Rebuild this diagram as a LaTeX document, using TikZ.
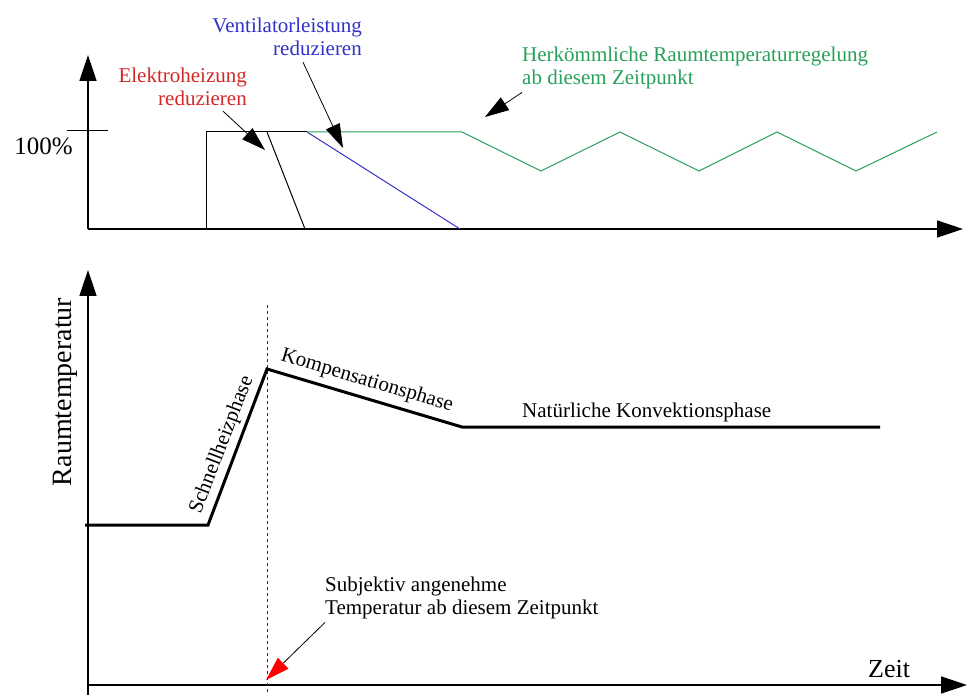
\documentclass[tikz,border=0pt]{standalone}
\usepackage{fontspec}
\setmainfont{Liberation Serif}
\usetikzlibrary{arrows.meta}
\definecolor{hgreen}{RGB}{40,160,90}
\definecolor{vblue}{RGB}{50,50,200}
\definecolor{ered}{RGB}{210,40,40}

\begin{document}
\begin{tikzpicture}[x=1pt,y=-1pt,
  axis/.style={line width=1.5pt,-{Triangle[length=26pt,width=17pt]}},
  pointer/.style={line width=0.8pt,-{Triangle[length=24pt,width=15pt]}},
  lbl/.style={inner sep=0pt,font=\fontsize{21}{23}\selectfont},
  curve/.style={line width=1pt}]
\useasboundingbox (0,0) rectangle (967,695);

% upper diagram: heating and fan power
\coordinate (o1) at (88,229);
\coordinate (y1) at (88,55);
\coordinate (x1) at (963,229);
\draw[axis] (o1) -- (y1);
\draw[axis] (o1) -- (x1);
\draw[line width=1pt] (67,131) -- (108,131);
\node[lbl,font=\fontsize{25}{25}\selectfont,anchor=base east] (full) at (73,155) {100\%};

\draw[curve] (206,229) -- (206,132) -- (307,132);
\draw[curve] (267,132) -- (305,229);
\draw[curve,vblue] (307,132) -- (460,229);
\draw[curve,hgreen] (307,132) -- (462,132) -- (541,171) -- (620,132) -- (699,171)
  -- (777,132) -- (856,171) -- (937,132);

\node[lbl,ered,align=right,anchor=north east] (elektro) at (247,68) {Elektroheizung\\reduzieren};
\node[lbl,vblue,align=right,anchor=north east] (vent) at (362,18) {Ventilatorleistung\\reduzieren};
\node[lbl,hgreen,align=left,anchor=north west] (herk) at (522,47)
  {Herkömmliche Raumtemperaturregelung\\ab diesem Zeitpunkt};

\coordinate (eh-tip) at (265,150);
\coordinate (vl-tip) at (343,148);
\coordinate (hk-tip) at (485,117);
\draw[pointer] ([xshift=-24pt,yshift=-5pt]elektro.south east) -- (eh-tip);
\draw[pointer] ([xshift=-59pt,yshift=-6pt]vent.south east) -- (vl-tip);
\draw[pointer] ([yshift=-3pt]herk.south west) -- (hk-tip);

% lower diagram: room temperature
\coordinate (o2) at (88,685);
\coordinate (y2b) at (88,695);
\coordinate (y2) at (88,270);
\coordinate (x2) at (967,685);
\draw[axis] (y2b) -- (y2);
\draw[axis] (o2) -- (x2);
\node[lbl,font=\fontsize{28}{28}\selectfont,rotate=90] (raum) at (65,392) {Raumtemperatur};
\node[lbl,font=\fontsize{26}{26}\selectfont,anchor=base west] (zeit) at (868,677) {Zeit};

\draw[red!60!black,dashed,line width=0.7pt] (267,305) -- (267,695);
\draw[line width=3pt] (85,525) -- (208,525) -- (267,369) -- (462,427) -- (880,427);

\node[lbl,rotate=69] (schnell) at (222,445) {Schnellheizphase};
\node[lbl,rotate=-16.6] (kompens) at (367,381) {Kompensationsphase};
\node[lbl,anchor=base west] (natur) at (522,417) {Natürliche Konvektionsphase};

\node[lbl,align=left,anchor=north west] (subj) at (325,577)
  {Subjektiv angenehme\\Temperatur ab diesem Zeitpunkt};
\coordinate (sj-tip) at (266,680);
\draw[line width=0.8pt,-{Triangle[length=24pt,width=15pt,red]}] ([yshift=-3pt]subj.south west) -- (sj-tip);
\end{tikzpicture}
\end{document}
